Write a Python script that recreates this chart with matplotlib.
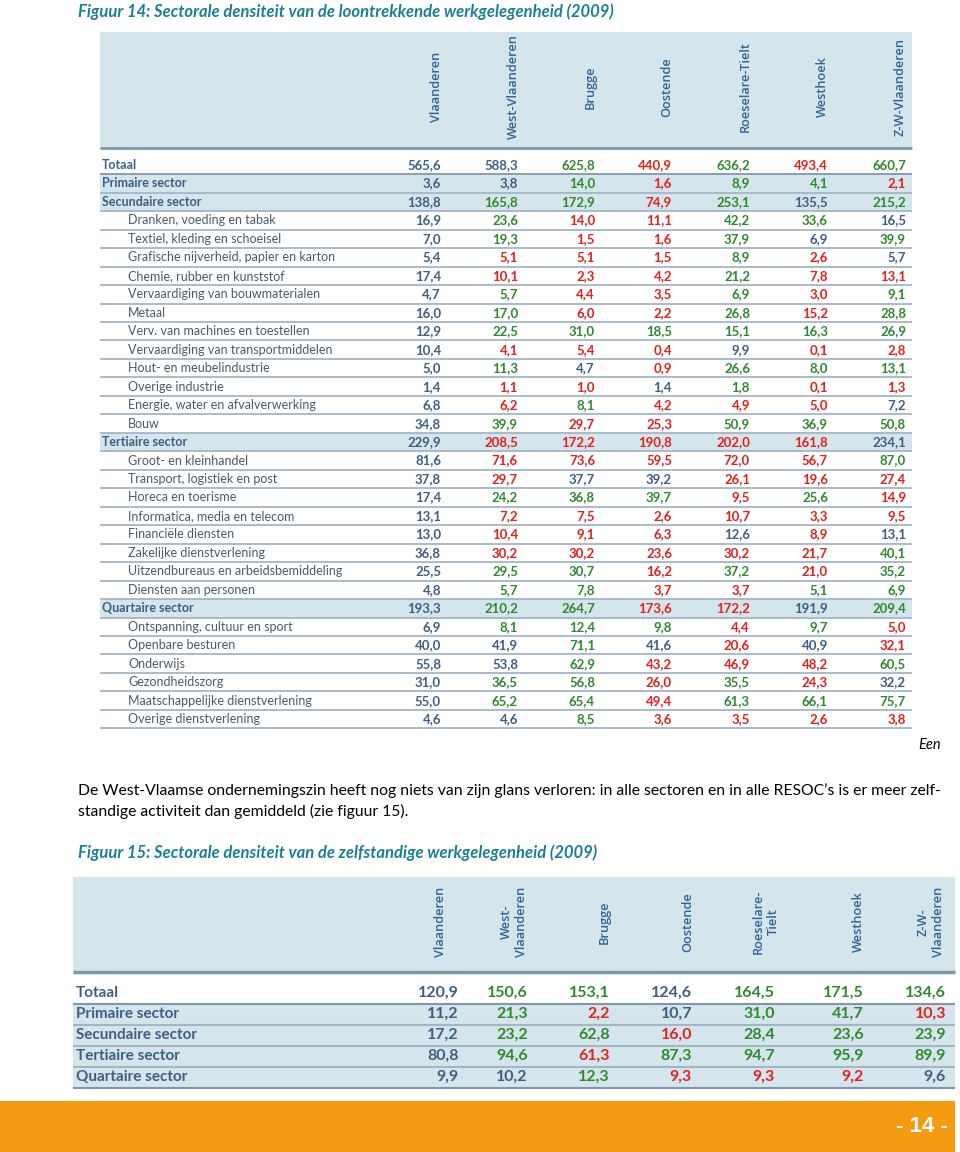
import matplotlib.pyplot as plt
from matplotlib.patches import Rectangle

# --- Data: figure 14 (loontrekkende werkgelegenheid) ---
regions_1 = ['Vlaanderen', 'West-Vlaanderen', 'Brugge', 'Oostende',
             'Roeselare-Tielt', 'Westhoek', 'Z-W-Vlaanderen']
regions_2 = ['Vlaanderen', 'West-\nVlaanderen', 'Brugge', 'Oostende',
             'Roeselare-\nTielt', 'Westhoek', 'Z-W-\nVlaanderen']

labels_1 = [
    'Totaal', 'Primaire sector', 'Secundaire sector',
    'Dranken, voeding en tabak', 'Textiel, kleding en schoeisel',
    'Grafische nijverheid, papier en karton', 'Chemie, rubber en kunststof',
    'Vervaardiging van bouwmaterialen', 'Metaal',
    'Verv. van machines en toestellen', 'Vervaardiging van transportmiddelen',
    'Hout- en meubelindustrie', 'Overige industrie',
    'Energie, water en afvalverwerking', 'Bouw', 'Tertiaire sector',
    'Groot- en kleinhandel', 'Transport, logistiek en post',
    'Horeca en toerisme', 'Informatica, media en telecom',
    'Financiële diensten', 'Zakelijke dienstverlening',
    'Uitzendbureaus en arbeidsbemiddeling', 'Diensten aan personen',
    'Quartaire sector', 'Ontspanning, cultuur en sport', 'Openbare besturen',
    'Onderwijs', 'Gezondheidszorg', 'Maatschappelijke dienstverlening',
    'Overige dienstverlening',
]
# 0 = totaal, 1 = sector (shaded), 2 = subsector (indented)
levels_1 = [0, 1, 1, 2, 2, 2, 2, 2, 2, 2, 2, 2, 2, 2, 2, 1,
            2, 2, 2, 2, 2, 2, 2, 2, 1, 2, 2, 2, 2, 2, 2]

values_1 = [
    [565.6, 588.3, 625.8, 440.9, 636.2, 493.4, 660.7],
    [3.6, 3.8, 14.0, 1.6, 8.9, 4.1, 2.1],
    [138.8, 165.8, 172.9, 74.9, 253.1, 135.5, 215.2],
    [16.9, 23.6, 14.0, 11.1, 42.2, 33.6, 16.5],
    [7.0, 19.3, 1.5, 1.6, 37.9, 6.9, 39.9],
    [5.4, 5.1, 5.1, 1.5, 8.9, 2.6, 5.7],
    [17.4, 10.1, 2.3, 4.2, 21.2, 7.8, 13.1],
    [4.7, 5.7, 4.4, 3.5, 6.9, 3.0, 9.1],
    [16.0, 17.0, 6.0, 2.2, 26.8, 15.2, 28.8],
    [12.9, 22.5, 31.0, 18.5, 15.1, 16.3, 26.9],
    [10.4, 4.1, 5.4, 0.4, 9.9, 0.1, 2.8],
    [5.0, 11.3, 4.7, 0.9, 26.6, 8.0, 13.1],
    [1.4, 1.1, 1.0, 1.4, 1.8, 0.1, 1.3],
    [6.8, 6.2, 8.1, 4.2, 4.9, 5.0, 7.2],
    [34.8, 39.9, 29.7, 25.3, 50.9, 36.9, 50.8],
    [229.9, 208.5, 172.2, 190.8, 202.0, 161.8, 234.1],
    [81.6, 71.6, 73.6, 59.5, 72.0, 56.7, 87.0],
    [37.8, 29.7, 37.7, 39.2, 26.1, 19.6, 27.4],
    [17.4, 24.2, 36.8, 39.7, 9.5, 25.6, 14.9],
    [13.1, 7.2, 7.5, 2.6, 10.7, 3.3, 9.5],
    [13.0, 10.4, 9.1, 6.3, 12.6, 8.9, 13.1],
    [36.8, 30.2, 30.2, 23.6, 30.2, 21.7, 40.1],
    [25.5, 29.5, 30.7, 16.2, 37.2, 21.0, 35.2],
    [4.8, 5.7, 7.8, 3.7, 3.7, 5.1, 6.9],
    [193.3, 210.2, 264.7, 173.6, 172.2, 191.9, 209.4],
    [6.9, 8.1, 12.4, 9.8, 4.4, 9.7, 5.0],
    [40.0, 41.9, 71.1, 41.6, 20.6, 40.9, 32.1],
    [55.8, 53.8, 62.9, 43.2, 46.9, 48.2, 60.5],
    [31.0, 36.5, 56.8, 26.0, 35.5, 24.3, 32.2],
    [55.0, 65.2, 65.4, 49.4, 61.3, 66.1, 75.7],
    [4.6, 4.6, 8.5, 3.6, 3.5, 2.6, 3.8],
]
# B = gemiddeld, G = hoger, R = lager
flags_1 = [
    'BBGRGRG', 'BBGRGGR', 'BGGRGBG', 'BGRRGGB', 'BGRRGBG', 'BRRRGRB',
    'BRRRGRR', 'BGRRGRG', 'BGRRGRG', 'BGGGGGG', 'BRRRBRR', 'BGBRGGG',
    'BRRBGRR', 'BRGRRRB', 'BGRRGGG', 'BRRRRRB', 'BRRRRRG', 'BRBBRRR',
    'BGGGRGR', 'BRRRRRR', 'BRRRBRB', 'BRRRRRG', 'BGGRGRG', 'BGGRRGG',
    'BGGRRBG', 'BGGGRGR', 'BBGBRBR', 'BBGRRRG', 'BGGRGRB', 'BGGRGGG',
    'BBGRRRR',
]

# --- Data: figure 15 (zelfstandige werkgelegenheid) ---
labels_2 = ['Totaal', 'Primaire sector', 'Secundaire sector',
            'Tertiaire sector', 'Quartaire sector']
values_2 = [
    [120.9, 150.6, 153.1, 124.6, 164.5, 171.5, 134.6],
    [11.2, 21.3, 2.2, 10.7, 31.0, 41.7, 10.3],
    [17.2, 23.2, 62.8, 16.0, 28.4, 23.6, 23.9],
    [80.8, 94.6, 61.3, 87.3, 94.7, 95.9, 89.9],
    [9.9, 10.2, 12.3, 9.3, 9.3, 9.2, 9.6],
]
flags_2 = ['BGGBGGG', 'BGRBGGR', 'BGGRGGG', 'BGRGGGG', 'BBGRRRB']

# --- Styling ---
COLORS = {'B': '#3d5f86', 'G': '#2e8a2e', 'R': '#e3211c'}
SHADE = '#d5e5ec'
LINE = '#a3b6c6'
DARK_LINE = '#7f97ad'
TEAL = '#1a7f97'
HEAD = '#2f6595'
BODY = 'Lato'


def fmt(v):
    return f'{v:.1f}'.replace('.', ',')


fig = plt.figure(figsize=(9.6, 11.52), dpi=100)
ax = fig.add_axes([0, 0, 1, 1])
ax.set_xlim(0, 960)
ax.set_ylim(1152, 0)
ax.axis('off')

# titles
ax.text(78, 12, 'Figuur 14: Sectorale densiteit van de loontrekkende werkgelegenheid (2009)',
        color=TEAL, fontsize=12, style='italic', weight='bold', family=BODY, va='center')
ax.text(78, 853, 'Figuur 15: Sectorale densiteit van de zelfstandige werkgelegenheid (2009)',
        color=TEAL, fontsize=12, style='italic', weight='bold', family=BODY, va='center')

# ---------- table 1 ----------
t1_left, t1_right = 100, 912
t1_cols = [441, 518, 595, 672, 750, 828, 906]
t1_head = [437, 513, 590, 667, 745, 822, 900]
t1_top, t1_step = 165, 18.47

ax.add_patch(Rectangle((t1_left, 32), t1_right - t1_left, 116, color=SHADE, lw=0))
for name, x in zip(regions_1, t1_head):
    ax.text(x, 87, name, rotation=90, ha='center', va='center',
            fontsize=9.2, color=HEAD, family='Open Sans', weight='semibold')
ax.hlines(148, t1_left, t1_right, color=DARK_LINE, lw=2)

for i, (lab, lev, vals, fl) in enumerate(zip(labels_1, levels_1, values_1, flags_1)):
    y = t1_top + i * t1_step
    if lev == 1:
        ax.add_patch(Rectangle((t1_left, y - t1_step / 2), t1_right - t1_left, t1_step,
                               color=SHADE, lw=0))
    ax.hlines(y + t1_step / 2, t1_left, t1_right,
              color=DARK_LINE if i == 0 else LINE, lw=1.3)
    ax.text(102 if lev < 2 else 128, y, lab, va='center', family=BODY,
            fontsize=9, color='#3d5f86' if lev < 2 else '#4a5a6a',
            weight='bold' if lev < 2 else 'normal')
    for v, c, x in zip(vals, fl, t1_cols):
        ax.text(x, y, fmt(v), ha='right', va='center', family=BODY,
                fontsize=9.5, weight='bold', color=COLORS[c])

ax.text(941, 745, 'Een', style='italic', fontsize=10.5, family=BODY,
        ha='right', va='center')

# paragraph
ax.text(78, 791, 'De West-Vlaamse ondernemingszin heeft nog niets van zijn glans verloren: '
        'in alle sectoren en in alle RESOC\u2019s is er meer zelf-',
        fontsize=11.3, family=BODY, va='center')
ax.text(78, 811, 'standige activiteit dan gemiddeld (zie figuur 15).',
        fontsize=11.3, family=BODY, va='center')

# ---------- table 2 ----------
t2_left, t2_right = 73, 955
t2_cols = [459, 528, 610, 692, 775, 864, 946]
t2_head = [440, 514, 604, 688, 766, 858, 931]
t2_top, t2_step = 993, 21

ax.add_patch(Rectangle((t2_left, 877), t2_right - t2_left, 95, color=SHADE, lw=0))
for name, x in zip(regions_2, t2_head):
    ax.text(x, 922, name, rotation=90, ha='center', va='center', multialignment='center',
            fontsize=9.2, color=HEAD, family='Open Sans', weight='semibold', linespacing=1.2)
ax.hlines(972, t2_left, t2_right, color=DARK_LINE, lw=2.5)

for i, (lab, vals, fl) in enumerate(zip(labels_2, values_2, flags_2)):
    y = t2_top + i * t2_step
    if i > 0:
        ax.add_patch(Rectangle((t2_left, y - t2_step / 2), t2_right - t2_left, t2_step,
                               color=SHADE, lw=0))
    ax.hlines(y + t2_step / 2, t2_left, t2_right, color=DARK_LINE if i in (0, 4) else LINE, lw=1.5)
    ax.text(76, y, lab, va='center', family=BODY, fontsize=11,
            color='#3d5f86', weight='bold')
    for v, c, x in zip(vals, fl, t2_cols):
        ax.text(x, y, fmt(v), ha='right', va='center', family=BODY,
                fontsize=11.5, weight='bold', color=COLORS[c])

# footer band
ax.add_patch(Rectangle((0, 1101), 955, 51, color='#f49b12', lw=0))
ax.text(948, 1127, '- 14 -', color='white', fontsize=16, weight='bold',
        family='Liberation Sans', ha='right', va='center')

fig.savefig('out.png', dpi=100)
